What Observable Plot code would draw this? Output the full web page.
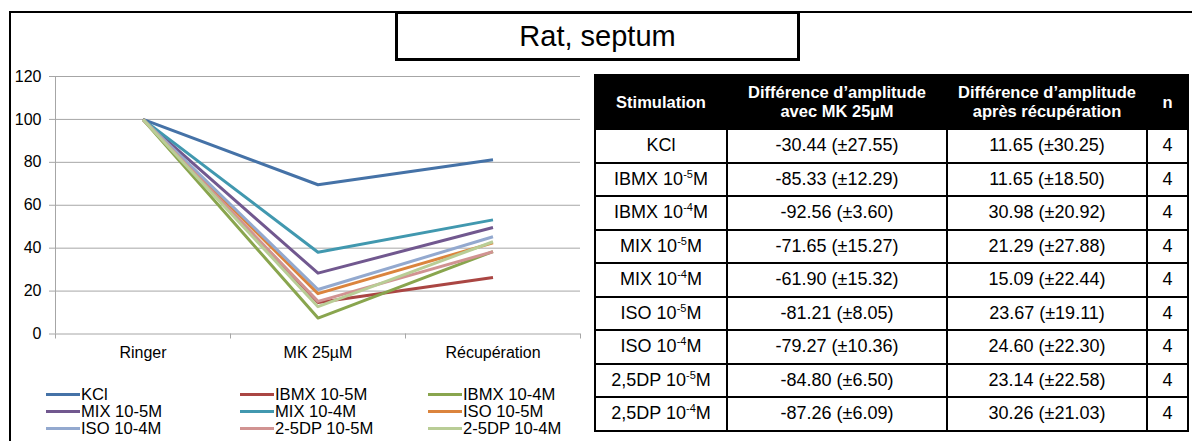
<!DOCTYPE html>
<html><head><meta charset="utf-8">
<script src="https://cdn.jsdelivr.net/npm/d3@7"></script>
<script src="https://cdn.jsdelivr.net/npm/@observablehq/plot@0.6"></script>
<style>
body{margin:0;background:#fff;font-family:Arial,"Liberation Sans",sans-serif;}
#root{position:relative;width:1192px;height:441px;overflow:hidden;background:#fff;}
#frame{position:absolute;left:9px;top:11px;width:1300px;height:600px;border-left:2px solid #000;border-top:2px solid #000;}
#title{position:absolute;left:395px;top:11px;width:405px;height:50px;box-sizing:border-box;border:3px solid #000;background:#fff;font-size:29px;display:flex;align-items:center;justify-content:center;color:#000;}
#chart{position:absolute;left:0;top:60px;}
#legend{position:absolute;left:0;top:0;}
.li{position:absolute;display:flex;align-items:center;font-size:16.6px;line-height:17px;height:17px;white-space:nowrap;color:#000;}
.sw{width:34px;height:3px;margin-right:1px;}
table{position:absolute;left:594px;top:74px;border-collapse:collapse;width:593px;table-layout:fixed;}
td,th{border:2px solid #000;text-align:center;padding:0;color:#000;}
th{background:#000;color:#fff;font-size:16.5px;line-height:19px;height:52px;font-weight:bold;}
td{font-size:18px;height:31.5px;}
sup{font-size:11px;vertical-align:7px;line-height:0;}
</style>
</head><body>
<div id="root">
  <div id="frame"></div>
  <div id="title">Rat, septum</div>
  <div id="chart"></div>
  <div id="legend"></div>
  <table id="tbl"></table>
</div>
<script>
// ---- Chart data ----
const categories = ["Ringer", "MK 25µM", "Récupération"];
const series = ["KCl", "IBMX 10-5M", "IBMX 10-4M", "MIX 10-5M", "MIX 10-4M", "ISO 10-5M", "ISO 10-4M", "2-5DP 10-5M", "2-5DP 10-4M"];
const colors = ["#4572A7", "#AA4643", "#89A54E", "#71588F", "#4198AF", "#DB843D", "#93A9CF", "#D19392", "#B9CD96"];
const ringerValues = [100, 100, 100, 100, 100, 100, 100, 100, 100];
const mkValues = [69.56, 14.67, 7.44, 28.35, 38.10, 18.79, 20.73, 15.20, 12.74];
const recupValues = [81.21, 26.32, 38.42, 49.64, 53.19, 42.46, 45.33, 38.34, 43.00];
const yTicks = [0, 20, 40, 60, 80, 100, 120];

// ---- Table data ----
const tableHeaders = ["Stimulation", "Différence d’amplitude<br>avec MK 25µM", "Différence d’amplitude<br>après récupération", "n"];
const stimBase = ["KCl", "IBMX 10", "IBMX 10", "MIX 10", "MIX 10", "ISO 10", "ISO 10", "2,5DP 10", "2,5DP 10"];
const stimExp = ["", "-5", "-4", "-5", "-4", "-5", "-4", "-5", "-4"];
const diffMK = ["-30.44 (±27.55)", "-85.33 (±12.29)", "-92.56 (±3.60)", "-71.65 (±15.27)", "-61.90 (±15.32)", "-81.21 (±8.05)", "-79.27 (±10.36)", "-84.80 (±6.50)", "-87.26 (±6.09)"];
const diffRecup = ["11.65 (±30.25)", "11.65 (±18.50)", "30.98 (±20.92)", "21.29 (±27.88)", "15.09 (±22.44)", "23.67 (±19.11)", "24.60 (±22.30)", "23.14 (±22.58)", "30.26 (±21.03)"];
const nValues = [4, 4, 4, 4, 4, 4, 4, 4, 4];

// ---- Build chart ----
const rows = [];
series.forEach((s, i) => {
  [ringerValues[i], mkValues[i], recupValues[i]].forEach((v, j) => rows.push({series: s, x: j + 0.5, v}));
});
const boundaries = d3.range(categories.length + 1);
const centers = categories.map((c, i) => i + 0.5);

const chart = Plot.plot({
  width: 600, height: 310,
  marginTop: 16, marginBottom: 36.5, marginLeft: 55, marginRight: 20,
  x: {domain: [0, categories.length], axis: null},
  y: {domain: [0, 120], axis: null},
  color: {domain: series, range: colors},
  style: {fontFamily: "Arial, 'Liberation Sans', sans-serif", fontSize: "16px", color: "#000", background: "transparent"},
  marks: [
    Plot.gridY(yTicks, {stroke: "#a6a6a6", strokeOpacity: 1}),
    Plot.axisY(yTicks, {label: null, tickSize: 6, tickPadding: 8, stroke: "#a6a6a6", fill: "#000", fontSize: 16, tickFormat: d => String(d)}),
    Plot.ruleX([0], {stroke: "#a6a6a6"}),
    Plot.axisX(boundaries, {label: null, tickSize: 5, stroke: "#a6a6a6", tickFormat: () => ""}),
    Plot.axisX(centers, {label: null, tickSize: 0, tickPadding: 13, fill: "#000", fontSize: 16, tickFormat: d => categories[Math.round(d - 0.5)]}),
    Plot.line(rows, {x: "x", y: "v", z: "series", stroke: "series", strokeWidth: 3, strokeLinejoin: "round", strokeLinecap: "butt"})
  ]
});
document.getElementById("chart").appendChild(chart);

// ---- Legend ----
const legend = document.getElementById("legend");
const legendCols = [46, 240, 428];
const legendRows = [394, 411, 428];
series.forEach((s, i) => {
  const el = document.createElement("div");
  el.className = "li";
  el.style.left = legendCols[i % 3] + "px";
  el.style.top = (legendRows[Math.floor(i / 3)] - 8.5) + "px";
  const sw = document.createElement("span");
  sw.className = "sw";
  sw.style.background = colors[i];
  el.appendChild(sw);
  el.appendChild(document.createTextNode(s));
  legend.appendChild(el);
});

// ---- Table ----
const tbl = document.getElementById("tbl");
const colWidths = [132, 220, 200, 41];
const cg = document.createElement("colgroup");
colWidths.forEach(w => { const c = document.createElement("col"); c.style.width = w + "px"; cg.appendChild(c); });
tbl.appendChild(cg);
const hr = document.createElement("tr");
tableHeaders.forEach(h => { const th = document.createElement("th"); th.innerHTML = h; hr.appendChild(th); });
tbl.appendChild(hr);
stimBase.forEach((b, i) => {
  const tr = document.createElement("tr");
  const c0 = document.createElement("td");
  c0.innerHTML = stimExp[i] ? `${b}<sup>${stimExp[i]}</sup>M` : b;
  tr.appendChild(c0);
  [diffMK[i], diffRecup[i], nValues[i]].forEach(v => { const td = document.createElement("td"); td.textContent = v; tr.appendChild(td); });
  tbl.appendChild(tr);
});
</script>
</body></html>
